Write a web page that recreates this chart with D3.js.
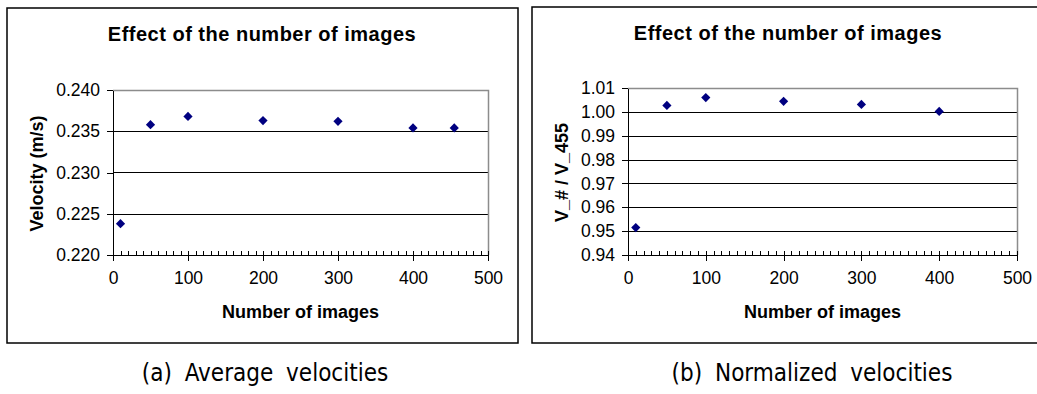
<!DOCTYPE html>
<html lang="en">
<head>
    <meta charset="UTF-8">
    <title>Effect of the number of images</title>
    <script src="https://cdn.jsdelivr.net/npm/d3@7/dist/d3.min.js"></script>
    <style>
        body { margin: 0; background: #fff; }
        svg text { font-family: "Liberation Sans", Arial, sans-serif; fill: #000; }
        .axis path, .axis line { stroke: #000; shape-rendering: crispEdges; }
        .axis text { font-size: 17.5px; }
        .grid line { stroke: #000; shape-rendering: crispEdges; }
        .title { font-size: 20px; font-weight: bold; letter-spacing: 0.5px; }
        .label { font-size: 18px; font-weight: bold; }
        .caption { font-family: "Liberation Sans Narrow", "DejaVu Sans Condensed", sans-serif !important; font-size: 24px; word-spacing: 6px; }
    </style>
</head>
<body>
<svg id="vis" width="1037" height="394"></svg>
<script>
    // number of images used
    let imagesA = [10, 50, 100, 200, 300, 400, 455];
    let velocity = [0.2238, 0.2358, 0.2368, 0.2363, 0.2362, 0.2354, 0.2354];

    let imagesB = [10, 50, 100, 200, 300, 400];
    let normalized = [0.9515, 1.0027, 1.0060, 1.0044, 1.0031, 1.0002];

    let xTicks = [0, 100, 200, 300, 400, 500];
    let yTicksA = [0.220, 0.225, 0.230, 0.235, 0.240];
    let yTicksB = [0.94, 0.95, 0.96, 0.97, 0.98, 0.99, 1.00, 1.01];

    let svg = d3.select("#vis");

    function drawPanel(p) {
        // cadre du graphique
        svg.append("rect")
            .attr("x", p.box[0]).attr("y", p.box[1])
            .attr("width", p.box[2]).attr("height", p.box[3])
            .attr("fill", "none").attr("stroke", "#000").attr("stroke-width", 1.5);

        let x = d3.scaleLinear().domain([0, 500]).range([p.left, p.right]);
        let y = d3.scaleLinear().domain(d3.extent(p.yTicks)).range([p.bottom, p.top]);

        // grille horizontale
        svg.append("g")
            .attr("class", "grid")
            .selectAll("line")
            .data(p.yTicks.slice(1, -1))
            .join("line")
            .attr("x1", p.left).attr("x2", p.right)
            .attr("y1", d => Math.round(y(d)) + 0.5).attr("y2", d => Math.round(y(d)) + 0.5);

        // bord gris du plot
        svg.append("path")
            .attr("d", `M${p.left},${p.top + 0.5}H${p.right + 0.5}V${p.bottom}`)
            .attr("fill", "none").attr("stroke", "#8c8c8c").attr("stroke-width", 1.5);

        // petites graduations
        svg.append("g")
            .attr("class", "axis")
            .attr("transform", "translate(0," + p.bottom + ")")
            .call(d3.axisBottom(x).tickValues(d3.range(0, 501, 10)).tickSize(-4).tickFormat(""))
            .call(g => g.select(".domain").remove());

        svg.append("g")
            .attr("class", "axis")
            .attr("transform", "translate(0," + p.bottom + ")")
            .call(d3.axisBottom(x).tickValues(xTicks).tickSize(6).tickSizeOuter(0).tickPadding(11));

        svg.append("g")
            .attr("class", "axis")
            .attr("transform", "translate(" + p.left + ",0)")
            .call(d3.axisLeft(y).tickValues(p.yTicks).tickSize(6).tickSizeOuter(0).tickPadding(7).tickFormat(d3.format(p.fmt)));

        svg.append("g")
            .selectAll("path")
            .data(p.xs)
            .join("path")
            .attr("d", d3.symbol(d3.symbolDiamond2, 54))
            .attr("transform", (d, i) => "translate(" + x(d) + "," + y(p.ys[i]) + ")")
            .attr("fill", "#000080");

        svg.append("text")
            .attr("class", "title")
            .attr("x", p.titleX).attr("y", p.titleY)
            .attr("text-anchor", "middle")
            .text("Effect of the number of images");

        svg.append("text")
            .attr("class", "label")
            .attr("x", (p.left + p.right) / 2).attr("y", 318)
            .attr("text-anchor", "middle")
            .text("Number of images");

        svg.append("text")
            .attr("class", "label")
            .attr("transform", "translate(" + p.yLabelX + "," + ((p.top + p.bottom) / 2 + 1) + ") rotate(-90)")
            .attr("dy", "0.35em")
            .attr("text-anchor", "middle")
            .text(p.yLabel);

        svg.append("text")
            .attr("class", "caption")
            .attr("x", p.capX).attr("y", 381)
            .attr("text-anchor", "middle")
            .text(p.caption);
    }

    drawPanel({
        box: [7, 8, 511, 335],
        left: 113, right: 488, top: 90, bottom: 255,
        xs: imagesA, ys: velocity, yTicks: yTicksA, fmt: ".3f",
        titleX: 262, titleY: 41,
        yLabel: "Velocity (m/s)", yLabelX: 37,
        caption: "(a) Average velocities", capX: 265
    });

    drawPanel({
        box: [532, 7, 520, 336],
        left: 628, right: 1017, top: 88, bottom: 255,
        xs: imagesB, ys: normalized, yTicks: yTicksB, fmt: ".2f",
        titleX: 788, titleY: 40,
        yLabel: "V_# / V_455", yLabelX: 562,
        caption: "(b) Normalized velocities", capX: 812
    });
</script>
</body>
</html>
